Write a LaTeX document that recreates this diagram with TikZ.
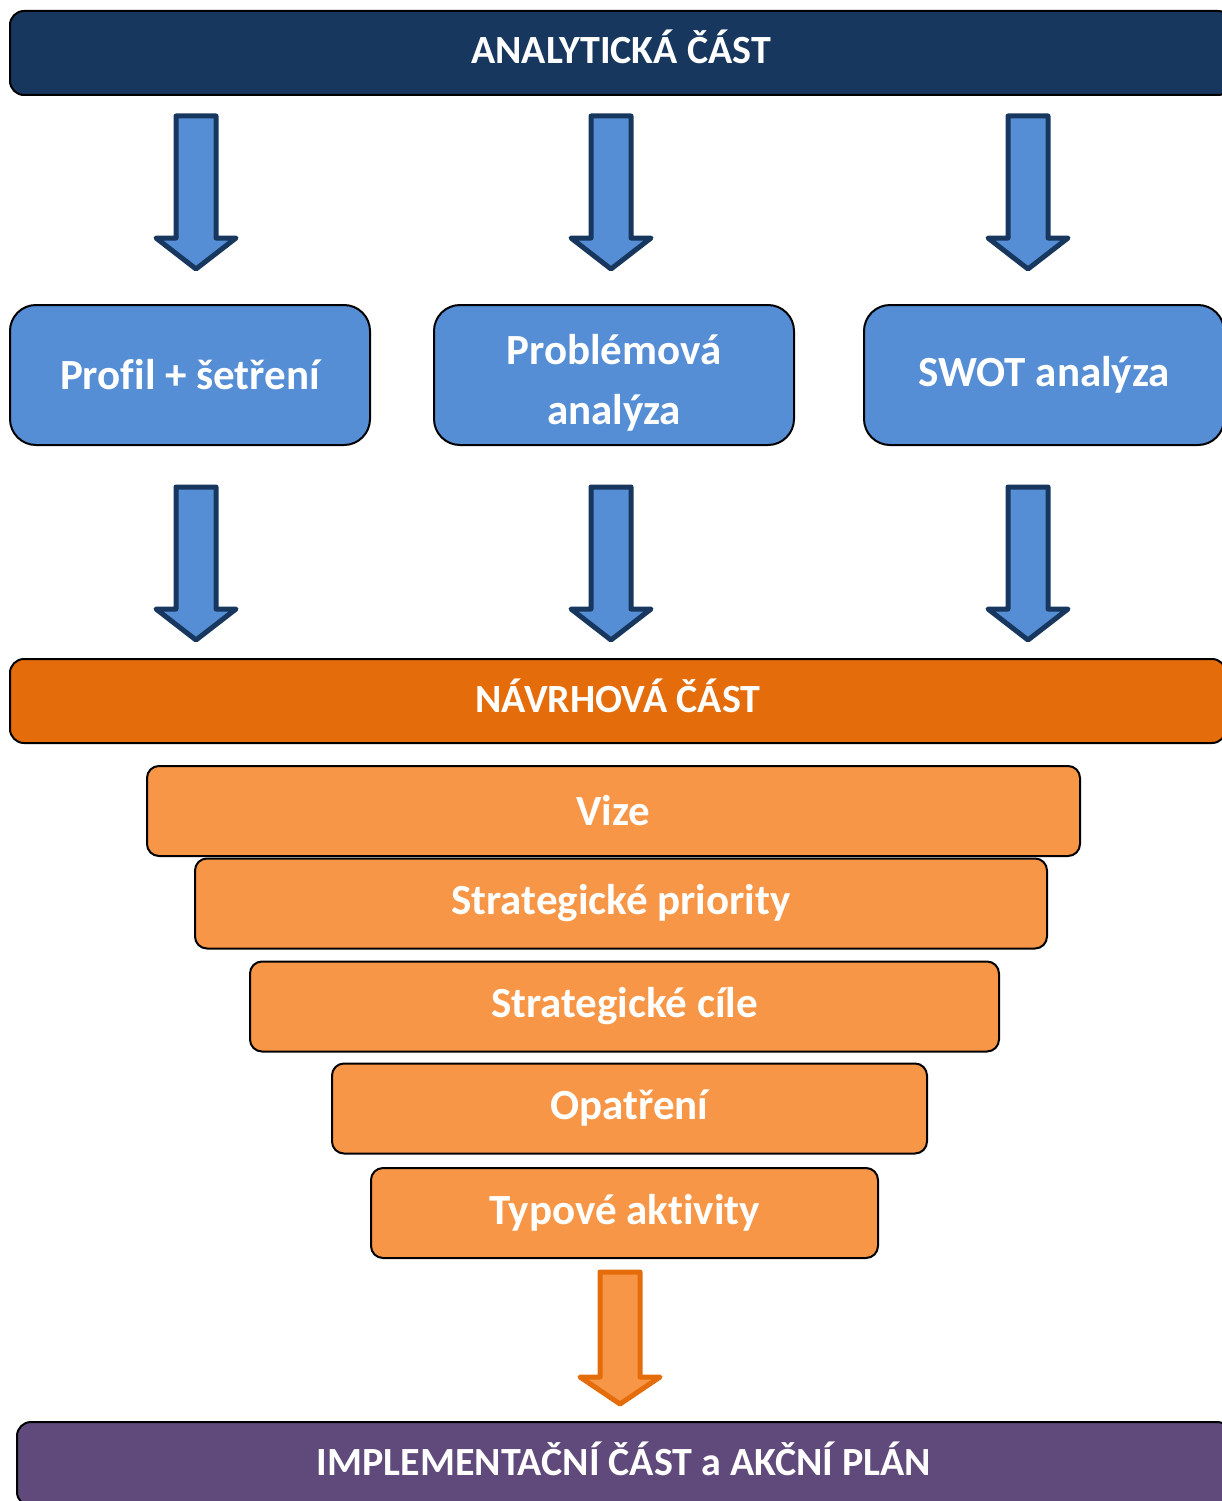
\documentclass[tikz,border=0pt]{standalone}
\usepackage{fontspec}
\setmainfont{Carlito}[RawFeature=-liga]
\definecolor{navy}{HTML}{17375E}
\definecolor{bluefill}{HTML}{558ED5}
\definecolor{orangebar}{HTML}{E46C0A}
\definecolor{orangebox}{HTML}{F79646}
\definecolor{purplebar}{HTML}{604A7B}
\tikzset{
  bar/.style={draw=black, line width=2pt, rounded corners=14pt, minimum height=84pt, text=white, font=\fontsize{40}{48}\selectfont\bfseries, inner sep=0pt, text height=31pt, text depth=9pt},
  bluebox/.style={draw=black, line width=2pt, fill=bluefill, rounded corners=26pt, minimum width=360pt, minimum height=140pt, text=white, align=center, font=\fontsize{43}{60}\selectfont\bfseries, inner sep=0pt},
  orbox/.style={draw=black, line width=2pt, fill=orangebox, rounded corners=12pt, minimum height=90pt, text=white, font=\fontsize{43}{50}\selectfont\bfseries, inner sep=0pt},
  blockarrow/.pic={\draw[pic actions, line width=5pt, line join=round] (-20,0) -- (20,0) -- (20,122) -- (40,122) -- (0,153) -- (-40,122) -- (-20,122) -- cycle;},
  shortarrow/.pic={\draw[pic actions, line width=5pt, line join=round] (-20,0) -- (20,0) -- (20,105) -- (40,105) -- (0,132) -- (-40,105) -- (-20,105) -- cycle;},
  bluearrow/.style={draw=navy, fill=bluefill},
  orarrow/.style={draw=orangebar, fill=orangebox}
}
\begin{document}
\begin{tikzpicture}[x=1pt,y=-1pt]
\useasboundingbox (0,0) rectangle (1222,1501);
% top bar
\node[bar, fill=navy, minimum width=1222pt] (analyt) at (621,53) {ANALYTICKÁ ČÁST};
% arrows row 1
\pic[bluearrow] (a1) at (196,116) {blockarrow};
\pic[bluearrow] (a2) at (611,116) {blockarrow};
\pic[bluearrow] (a3) at (1028,116) {blockarrow};
% blue boxes
\node[bluebox] (profil) at (190,375) {Profil + šetření};
\node[bluebox, text height=100pt, text depth=2pt] (probl) at (614,375) {Problémová\\analýza};
\node[bluebox] (swot) at (1044,375) {SWOT analýza};
% arrows row 2
\pic[bluearrow] (b1) at (196,487) {blockarrow};
\pic[bluearrow] (b2) at (611,487) {blockarrow};
\pic[bluearrow] (b3) at (1028,487) {blockarrow};
% orange bar
\node[bar, fill=orangebar, minimum width=1216pt] (navrh) at (618,701) {NÁVRHOVÁ ČÁST};
% funnel boxes
\node[orbox, minimum width=933pt] (vize) at (613.5,811) {Vize};
\node[orbox, minimum width=852pt] (prio) at (621,903.5) {Strategické priority};
\node[orbox, minimum width=749pt] (cile) at (624.5,1006.5) {Strategické cíle};
\node[orbox, minimum width=595pt] (opat) at (629.5,1108.5) {Opatření};
\node[orbox, minimum width=507pt] (typ) at (624.5,1213) {Typové aktivity};
% orange arrow
\pic[orarrow] (c1) at (620,1272) {shortarrow};
% purple bar
\node[bar, fill=purplebar, minimum width=1214pt] (impl) at (624,1464) {IMPLEMENTAČNÍ ČÁST a AKČNÍ PLÁN};
\end{tikzpicture}
\end{document}
